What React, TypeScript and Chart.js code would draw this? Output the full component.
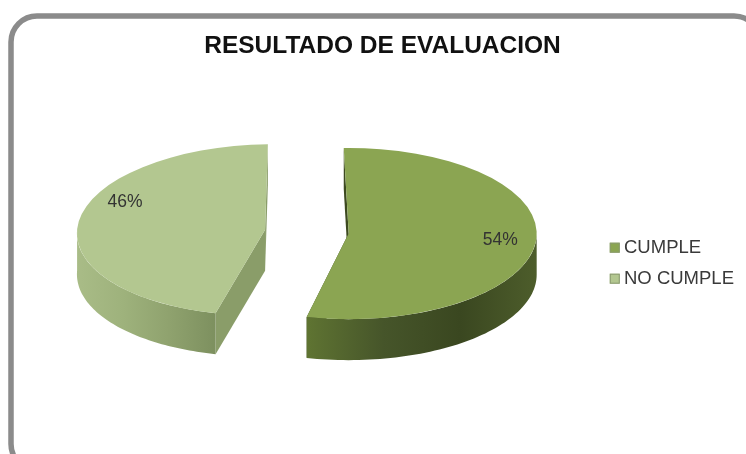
import React, { useEffect, useRef } from "react";
import { Chart, registerables } from "chart.js";

Chart.register(...registerables);

const TITLE = "RESULTADO DE EVALUACION";
const CATEGORIES = ["CUMPLE", "NO CUMPLE"];
const VALUES = [54, 46];
const TOP_COLORS = ["#8ba552", "#b3c790"];
const FACE_COLORS = ["#3d4a20", "#8a9d69"];
const WALL_STOPS = [
  ["#5f7432", "#46552a", "#3a4720", "#4d5d2b"],
  ["#a9bc87", "#9eb27c", "#8fa26e", "#7d905f"],
];
const LABEL_NUDGE = [
  [2, 0],
  [9, -21],
];
const SKEW = [0, -0.09];

const FONT = "'Liberation Sans', Arial, sans-serif";
const TILT = 0.455;
const DEPTH = 41;
const EXPLODE = 42;
const LIFT = 31;
const SHIFT_LEFT = 2.25;
const LABEL_RADIUS = 0.8;

type Pt = [number, number];

// Maps a point given in the flat pie plane onto the tilted disc of one slice.
function project(arc: any, i: number, angle: number, radius: number, drop = 0): Pt {
  const dx = Math.cos(angle) * radius;
  const dy = Math.sin(angle) * radius * TILT;
  return [arc.x + dx + SKEW[i] * dy, arc.tiltY + dy + drop];
}

function fillPolygon(ctx: CanvasRenderingContext2D, pts: Pt[], fill: string | CanvasGradient) {
  ctx.beginPath();
  pts.forEach(([x, y], n) => (n ? ctx.lineTo(x, y) : ctx.moveTo(x, y)));
  ctx.closePath();
  ctx.fillStyle = fill;
  ctx.fill();
}

const framePlugin = {
  id: "frame",
  beforeDraw(chart: any) {
    const { ctx } = chart;
    ctx.save();
    ctx.fillStyle = "#ffffff";
    ctx.fillRect(0, 0, chart.width, chart.height);
    ctx.beginPath();
    ctx.roundRect(11, 16, 749, 454, 26);
    ctx.lineWidth = 5.5;
    ctx.strokeStyle = "#8b8b8b";
    ctx.stroke();
    ctx.restore();
  },
};

const solidPiePlugin = {
  id: "solidPie",
  // Pulls the two slices apart along their bisectors and fixes each disc centre.
  afterDatasetUpdate(chart: any) {
    const area = chart.chartArea;
    const cx = (area.left + area.right) / 2 - SHIFT_LEFT;
    const cy = (area.top + area.bottom) / 2 - LIFT;
    chart.getDatasetMeta(0).data.forEach((arc: any) => {
      const mid = (arc.startAngle + arc.endAngle) / 2;
      arc.x = cx + Math.cos(mid) * EXPLODE;
      arc.tiltY = cy + Math.sin(mid) * EXPLODE * TILT;
      arc.y = arc.tiltY;
    });
  },
  beforeDatasetDraw(chart: any) {
    const { ctx } = chart;
    const arcs = chart.getDatasetMeta(0).data;
    arcs.forEach((arc: any, i: number) => {
      const r = arc.outerRadius;
      const start = arc.startAngle;
      const end = arc.endAngle;

      // Straight cut faces, hidden later wherever the top disc covers them.
      const centre = project(arc, i, 0, 0);
      const centreLow = project(arc, i, 0, 0, DEPTH);
      [start, end].forEach((a: number) => {
        fillPolygon(
          ctx,
          [centre, project(arc, i, a, r), project(arc, i, a, r, DEPTH), centreLow],
          FACE_COLORS[i],
        );
      });

      // Rim wall: only the part of the arc facing the viewer.
      const from = Math.max(start, 0);
      const to = Math.min(end, Math.PI);
      if (to > from) {
        const steps = 64;
        const upper: Pt[] = [];
        const lower: Pt[] = [];
        for (let s = 0; s <= steps; s++) {
          const a = from + ((to - from) * s) / steps;
          upper.push(project(arc, i, a, r));
          lower.unshift(project(arc, i, a, r, DEPTH));
        }
        const xs = upper.map((p) => p[0]);
        const minX = Math.min(...xs);
        const maxX = Math.max(...xs);
        const grad = ctx.createLinearGradient(minX, 0, maxX, 0);
        WALL_STOPS[i].forEach((c: string, n: number) =>
          grad.addColorStop(n / (WALL_STOPS[i].length - 1), c),
        );
        fillPolygon(ctx, [...upper, ...lower], grad);
      }

      // Top disc, drawn by the arc element itself under the tilt transform.
      ctx.save();
      ctx.transform(1, 0, SKEW[i] * TILT, TILT, -SKEW[i] * TILT * arc.y, arc.tiltY * (1 - TILT));
      arc.draw(ctx, chart.chartArea);
      ctx.restore();
    });
    return false;
  },
  afterDatasetsDraw(chart: any) {
    const { ctx } = chart;
    const arcs = chart.getDatasetMeta(0).data;
    ctx.save();
    ctx.font = `17.5px ${FONT}`;
    ctx.fillStyle = "#333333";
    ctx.textAlign = "center";
    ctx.textBaseline = "middle";
    arcs.forEach((arc: any, i: number) => {
      const mid = (arc.startAngle + arc.endAngle) / 2;
      const [x, y] = project(arc, i, mid, arc.outerRadius * LABEL_RADIUS);
      ctx.fillText(`${VALUES[i]}%`, x + LABEL_NUDGE[i][0], y + LABEL_NUDGE[i][1]);
    });
    ctx.restore();

    // Legend swatches, placed on the rows the legend has laid out.
    const legend = chart.legend;
    ctx.save();
    legend.legendHitBoxes.forEach((box: any, i: number) => {
      const y = box.top + box.height / 2 - 5;
      ctx.fillStyle = TOP_COLORS[i];
      ctx.fillRect(box.left, y, 10, 10);
      ctx.strokeStyle = "#8a9a70";
      ctx.lineWidth = 1;
      ctx.strokeRect(box.left + 0.5, y + 0.5, 9, 9);
    });
    ctx.restore();
  },
};

export default function App() {
  const ref = useRef<HTMLCanvasElement>(null);

  useEffect(() => {
    const chart = new Chart(ref.current as HTMLCanvasElement, {
      type: "pie",
      data: {
        labels: CATEGORIES,
        datasets: [
          {
            data: VALUES,
            backgroundColor: TOP_COLORS,
            borderWidth: 0,
            radius: 188,
          } as any,
        ],
      },
      options: {
        animation: false,
        responsive: false,
        rotation: -1.5,
        layout: { padding: { left: 21, right: 2, top: 0, bottom: 0 } },
        plugins: {
          title: {
            display: true,
            text: TITLE,
            color: "#111111",
            font: { family: FONT, size: 24.5, weight: "bold" },
            padding: { top: 32, bottom: 10 },
          },
          legend: {
            position: "right",
            // An empty heading pushes the centred legend rows down the right side.
            title: { display: true, text: "", padding: { top: 58, bottom: 0 } },
            labels: {
              boxWidth: 5,
              boxHeight: 1,
              padding: 12.5,
              color: "#3a3a3a",
              font: { family: FONT, size: 18.5, lineHeight: 16 / 18.5 },
              generateLabels: () =>
                CATEGORIES.map((text, index) => ({
                  text,
                  index,
                  fillStyle: "transparent",
                  strokeStyle: "transparent",
                  lineWidth: 0,
                  fontColor: "#3a3a3a",
                })),
            },
          },
          tooltip: { enabled: false },
        },
      },
      plugins: [framePlugin, solidPiePlugin],
    } as any);
    return () => chart.destroy();
  }, []);

  return (
    <div style={{ position: "absolute", left: 0, top: 0, width: 746, height: 454, overflow: "hidden" }}>
      <canvas ref={ref} width={746} height={454} style={{ display: "block" }} />
    </div>
  );
}
